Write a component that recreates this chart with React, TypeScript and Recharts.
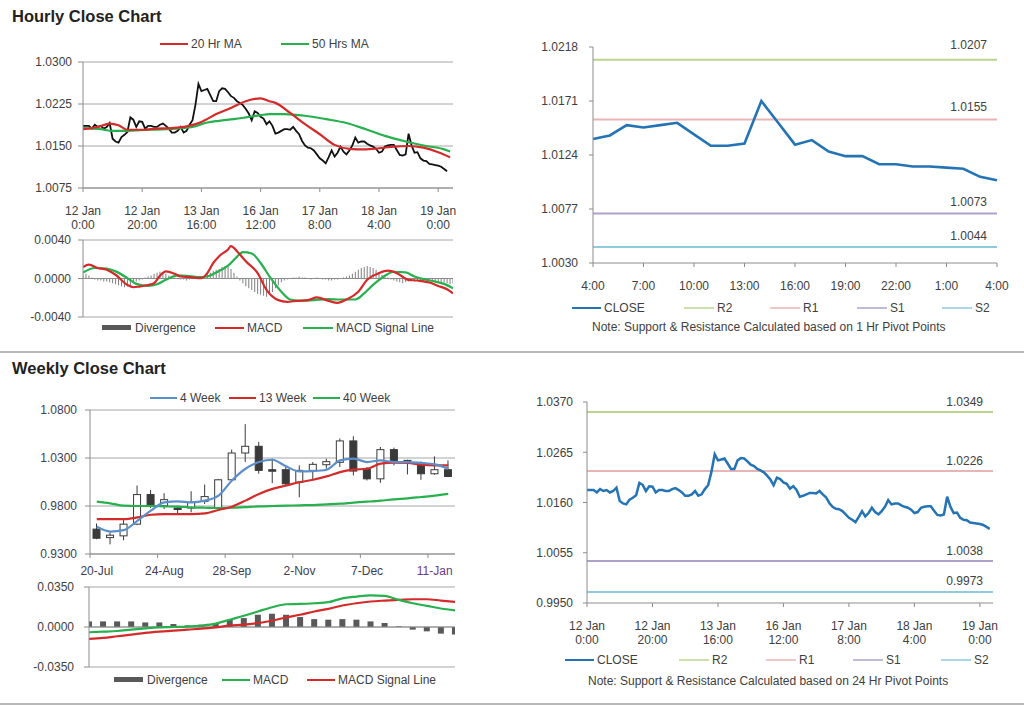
import React from 'react';
import {
  LineChart, Line, XAxis, YAxis, CartesianGrid, ReferenceLine, ComposedChart, Bar,
} from 'recharts';

const FONT = '"Liberation Sans", Arial, Helvetica, sans-serif';
const TXT = '#404040';
const GRID = '#a6a6a6';
const AXIS = '#8c8c8c';
const RED = '#d42a2a';
const GREEN = '#27b04e';
const BLUE = '#2474b5';
const WBLUE = '#5b8fcc';

// ---------- Hourly close (12 Jan 0:00 -> 19 Jan, one value per hour) ----------
const hourlyClose = [
  1.0186, 1.0186, 1.0186, 1.0181, 1.0188, 1.0184, 1.0186, 1.0181, 1.0184, 1.0191,
  1.0163, 1.0158, 1.0156, 1.0166, 1.0170, 1.0175, 1.0201, 1.0197, 1.0184, 1.0194,
  1.0193, 1.0181, 1.0186, 1.0186, 1.0184, 1.0184, 1.0188, 1.0190, 1.0186, 1.0181,
  1.0174, 1.0174, 1.0177, 1.0184, 1.0174, 1.0177, 1.0188, 1.0196, 1.0224, 1.0261,
  1.0248, 1.0250, 1.0252, 1.0241, 1.0230, 1.0230, 1.0248, 1.0253, 1.0252, 1.0246,
  1.0239, 1.0236, 1.0230, 1.0227, 1.0223, 1.0216, 1.0208, 1.0196, 1.0212, 1.0209,
  1.0202, 1.0199, 1.0189, 1.0194, 1.0186, 1.0172, 1.0174, 1.0177, 1.0180, 1.0180,
  1.0179, 1.0184, 1.0177, 1.0171, 1.0159, 1.0151, 1.0147, 1.0146, 1.0142, 1.0135,
  1.0128, 1.0124, 1.0119, 1.0130, 1.0142, 1.0131, 1.0138, 1.0149, 1.0140, 1.0135,
  1.0142, 1.0151, 1.0165, 1.0156, 1.0158, 1.0158, 1.0154, 1.0151, 1.0149, 1.0145,
  1.0138, 1.0140, 1.0149, 1.0151, 1.0152, 1.0152, 1.0143, 1.0134, 1.0133, 1.0135,
  1.0172, 1.0151, 1.0138, 1.0139, 1.0128, 1.0124, 1.0123, 1.0118, 1.0117, 1.0116,
  1.0115, 1.0113, 1.0109, 1.0105,
];
const hourTicks = [0, 20, 40, 60, 80, 100, 120];
const hourTickDay = ['12 Jan', '12 Jan', '13 Jan', '16 Jan', '17 Jan', '18 Jan', '19 Jan'];
const hourTickTime = ['0:00', '20:00', '16:00', '12:00', '8:00', '4:00', '0:00'];

const ma20Hours = [0, 5, 9, 12, 15, 20, 25, 30, 35, 40, 45, 50, 55, 58, 60, 63, 65, 70, 75, 80, 85, 90, 95, 100, 105, 110, 115, 120, 124];
const ma20Values = [1.0180, 1.0184, 1.0190, 1.0187, 1.0179, 1.0179, 1.0181, 1.0182, 1.0185, 1.0193, 1.0207, 1.0218, 1.0230, 1.0234, 1.0235, 1.0230, 1.0227, 1.0209, 1.0189, 1.0171, 1.0152, 1.0145, 1.0144, 1.0146, 1.0149, 1.0150, 1.0147, 1.0139, 1.0130];
const ma50Hours = [0, 6, 10, 15, 22, 28, 33, 37, 42, 46, 51, 55, 60, 63, 68, 75, 82, 89, 96, 102, 109, 116, 122, 124];
const ma50Values = [1.0182, 1.0180, 1.0177, 1.0177, 1.0179, 1.0180, 1.0182, 1.0184, 1.0192, 1.0195, 1.0198, 1.0201, 1.0205, 1.0207, 1.0207, 1.0204, 1.0198, 1.0191, 1.0179, 1.0168, 1.0158, 1.0150, 1.0144, 1.0140];

// ---------- Hourly MACD ----------
const macdHours = [0, 2, 5, 8, 11, 15, 17, 19, 22, 24, 26, 28, 31, 33, 36, 40, 42, 44, 46, 49, 50, 52, 55, 59, 62, 66, 69, 72, 76, 79, 83, 86, 89, 93, 96, 100, 103, 106, 110, 113, 117, 120, 123, 125];
const macdValues = [0.00119, 0.00144, 0.00109, 0.00091, 0.00039, -0.00067, -0.00091, -0.00084, -0.00067, -0.00049, 0.00028, 0.00074, 0.00049, 0.00021, 0.00014, 0.00004, 0.00056, 0.00161, 0.00232, 0.00302, 0.00337, 0.00284, 0.00179, 0.00056, -0.00119, -0.00225, -0.00242, -0.00232, -0.00225, -0.00197, -0.00232, -0.00253, -0.00218, -0.00137, -0.00014, 0.00056, 0.00081, 0.00056, -0.00014, -0.00021, -0.00042, -0.00077, -0.00112, -0.00154];
const signalHours = [0, 4, 8, 11, 15, 18, 22, 25, 28, 32, 35, 39, 42, 45, 49, 52, 54, 57, 60, 63, 67, 70, 74, 78, 83, 87, 92, 95, 98, 102, 105, 109, 112, 115, 119, 122, 125];
const signalValues = [0.00063, 0.00109, 0.00102, 0.00074, 0.00004, -0.00056, -0.00077, -0.0006, -0.00014, 0.00032, 0.00028, 0.00014, 0.00021, 0.00063, 0.00133, 0.00225, 0.00274, 0.0026, 0.00161, 0.00021, -0.00137, -0.00218, -0.00232, -0.00225, -0.00214, -0.00218, -0.00218, -0.00154, -0.00067, 0.00028, 0.0007, 0.00063, 0.00021, -0.00007, -0.00032, -0.00056, -0.00102];
const hourlyDivergence = [
  0.0004, 0.0005, 0.0003, 0.0001, -0.0001, -0.0002,
  -0.0002, -0.0003, -0.0003, -0.0004, -0.0005, -0.0006, -0.0007, -0.0008,
  -0.0009, -0.0008, -0.0007, -0.0005, -0.0003, -0.0002, -0.0001,
  0.0001, 0.0002, 0.0003, 0.0005, 0.0006, 0.0007, 0.0006, 0.0005,
  0.0003, 0.0002, 0.0001, 0, -0.0001, -0.0001, -0.0002, -0.0001, 0,
  0.0001, 0.0001, 0.0002,
  0.0003, 0.0005, 0.0006, 0.0008, 0.0009, 0.001, 0.0012, 0.0013, 0.0012, 0.001,
  0.0006, 0.0002,
  -0.0002, -0.0005, -0.0008, -0.001, -0.0012, -0.0014, -0.0016, -0.0017, -0.0018, -0.0019, -0.0017,
  -0.0014, -0.001, -0.0007, -0.0004, -0.0002,
  -0.0001, 0, 0.0001, 0.0001, 0.0002, 0.0001, 0.0001, 0, -0.0001, 0, 0.0001, 0,
  -0.0001, -0.0001, -0.0002, -0.0002, -0.0001, -0.0001, 0, 0.0001, 0.0002,
  0.0003, 0.0005, 0.0007, 0.0009, 0.0011, 0.0012, 0.0013, 0.0012, 0.0011, 0.0009, 0.0006,
  0.0004, 0.0002, 0.0001, -0.0001, -0.0002,
  -0.0003, -0.0004, -0.0005, -0.0004, -0.0003, -0.0002, -0.0003, -0.0002, -0.0002, -0.0003,
  -0.0002, -0.0003, -0.0004, -0.0003, -0.0004, -0.0005, -0.0004, -0.0005, -0.0006, -0.0005,
];

// ---------- Last 24 hours with 1 Hr pivots ----------
const lastDayClose = [1.0138, 1.0141, 1.0150, 1.0148, 1.0150, 1.0152, 1.0142, 1.0132, 1.0132, 1.0134, 1.0171, 1.0152, 1.0133, 1.0137, 1.0127, 1.0123, 1.0123, 1.0116, 1.0116, 1.0114, 1.0114, 1.0113, 1.0112, 1.0105, 1.0102];
const lastDayTicks = [0, 3, 6, 9, 12, 15, 18, 21, 24];
const lastDayTickLabels = ['4:00', '7:00', '10:00', '13:00', '16:00', '19:00', '22:00', '1:00', '4:00'];
const pivotNames = ['R2', 'R1', 'S1', 'S2'];
const pivotColors = ['#bdd48f', '#e8b4b4', '#b0a0cc', '#8ecbdc'];
const pivot1hLevels = [1.0207, 1.0155, 1.0073, 1.0044];
const pivot24hLevels = [1.0349, 1.0226, 1.0038, 0.9973];
const yTicks1h = [1.0030, 1.0077, 1.0124, 1.0171, 1.0218];
const yTicks24h = [0.9950, 1.0055, 1.0160, 1.0265, 1.0370];

// ---------- Weekly candles ----------
const weeks = ['20-Jul', '27-Jul', '3-Aug', '10-Aug', '17-Aug', '24-Aug', '31-Aug', '7-Sep', '14-Sep', '21-Sep', '28-Sep', '5-Oct', '12-Oct', '19-Oct', '26-Oct', '2-Nov', '9-Nov', '16-Nov', '23-Nov', '30-Nov', '7-Dec', '14-Dec', '21-Dec', '28-Dec', '4-Jan', '11-Jan', '18-Jan'];
const wOpen = [0.9559, 0.9471, 0.9489, 0.9611, 0.9919, 0.9803, 0.9779, 0.9779, 0.9849, 0.9779, 1.0073, 1.0352, 1.0422, 1.0178, 1.0178, 1.0048, 1.0171, 1.0230, 1.0255, 1.0478, 1.0181, 1.0083, 1.0387, 1.0275, 1.0248, 1.0136, 1.0178];
const wHigh = [0.9618, 0.9524, 0.9653, 1.0013, 0.9968, 0.9933, 0.9803, 0.9954, 1.0024, 1.0080, 1.0387, 1.0653, 1.0468, 1.0293, 1.0206, 1.0223, 1.0258, 1.0293, 1.0503, 1.0527, 1.0206, 1.0415, 1.0408, 1.0282, 1.0265, 1.0317, 1.0275];
const wLow = [0.9454, 0.9401, 0.9443, 0.9601, 0.9779, 0.9769, 0.9716, 0.9734, 0.9821, 0.9769, 1.0066, 1.0258, 1.0136, 1.0038, 1.0003, 0.9891, 1.0066, 1.0188, 1.0206, 1.0118, 1.0066, 1.0041, 1.0223, 1.0129, 1.0073, 1.0125, 1.0101];
const wClose = [0.9464, 0.9496, 0.9611, 0.9919, 0.9814, 0.9866, 0.9769, 0.9838, 0.9898, 1.0073, 1.0352, 1.0422, 1.0171, 1.0167, 1.0031, 1.0171, 1.0234, 1.0262, 1.0478, 1.0164, 1.0083, 1.0387, 1.0275, 1.0251, 1.0136, 1.0178, 1.0108];
const wMA4 = [0.9583, 0.9534, 0.9548, 0.9646, 0.9751, 0.9838, 0.9849, 0.9838, 0.9856, 0.9908, 1.0066, 1.0188, 1.0258, 1.0282, 1.0213, 1.0160, 1.0164, 1.0178, 1.0275, 1.0293, 1.0258, 1.0275, 1.0258, 1.0258, 1.0248, 1.0234, 1.0188];
const wMA13 = [0.9664, 0.9664, 0.9664, 0.9681, 0.9709, 0.9716, 0.9716, 0.9716, 0.9723, 0.9758, 0.9793, 0.9856, 0.9926, 0.9978, 1.0013, 1.0048, 1.0073, 1.0108, 1.0153, 1.0178, 1.0188, 1.0241, 1.0251, 1.0248, 1.0230, 1.0223, 1.0223];
const wMA40 = [0.9845, 0.9828, 0.9803, 0.9800, 0.9800, 0.9796, 0.9793, 0.9786, 0.9782, 0.9779, 0.9782, 0.9789, 0.9796, 0.9800, 0.9803, 0.9807, 0.9810, 0.9817, 0.9824, 0.9835, 0.9845, 0.9856, 0.9870, 0.9880, 0.9894, 0.9908, 0.9926];
const weekTickIdx = [0, 5, 10, 15, 20, 25];
const wYTicks = [0.93, 0.98, 1.03, 1.08];

// ---------- Weekly MACD ----------
const wMacd = [-0.0046, -0.0041, -0.0035, -0.0023, -0.0012, -0.0003, 0.0000, 0.0003, 0.0012, 0.0029, 0.0064, 0.0098, 0.0136, 0.0173, 0.0199, 0.0202, 0.0208, 0.0217, 0.0251, 0.0266, 0.0277, 0.0272, 0.0237, 0.0208, 0.0185, 0.0162, 0.0145];
const wSignal = [-0.0104, -0.0095, -0.0081, -0.0067, -0.0052, -0.0041, -0.0032, -0.0023, -0.0015, -0.0003, 0.0012, 0.0020, 0.0035, 0.0055, 0.0084, 0.0107, 0.0136, 0.0159, 0.0188, 0.0208, 0.0223, 0.0231, 0.0237, 0.0243, 0.0243, 0.0231, 0.0220];
const wDiv = [0.0049, 0.0049, 0.0049, 0.0049, 0.0040, 0.0040, 0.0026, 0.0014, 0.0020, 0.0035, 0.0064, 0.0078, 0.0107, 0.0116, 0.0107, 0.0087, 0.0069, 0.0064, 0.0069, 0.0064, 0.0049, 0.0035, 0.0006, -0.0023, -0.0038, -0.0058, -0.0066];

// ---------- derived tables ----------
const pairs = (hs: number[], vs: number[]) => hs.map((h, i) => ({ h, v: vs[i] }));
const hourlyData = hourlyClose.map((v, i) => ({ h: i, v }));
const ma20Data = pairs(ma20Hours, ma20Values);
const ma50Data = pairs(ma50Hours, ma50Values);
const macdData = pairs(macdHours, macdValues);
const signalData = pairs(signalHours, signalValues);
const divData = hourlyDivergence.map((v, i) => ({ h: i, v }));
const lastDayData = lastDayClose.map((v, i) => ({ h: i, v }));
const weeklyData = weeks.map((w, k) => ({
  x: k + 0.5, hl: [wLow[k], wHigh[k]], open: wOpen[k], high: wHigh[k], low: wLow[k], close: wClose[k],
  ma4: wMA4[k], ma13: wMA13[k], ma40: wMA40[k],
}));
const wMacdData = weeks.map((w, k) => ({ x: k, div: wDiv[k], macd: wMacd[k], sig: wSignal[k] }));

const fmt4 = (v: number) => v.toFixed(4);
const yTickStyle = { fill: TXT, fontSize: 12, fontFamily: FONT };

const twoLineTick = (ticks: number[], top: string[], bottom: string[], d1: number, d2: number) => (p: any) => {
  const idx = ticks.indexOf(p.payload.value);
  if (idx < 0) return <g />;
  return (
    <text x={p.x} y={p.y} textAnchor="middle" fill={TXT} fontSize={12} fontFamily={FONT}>
      <tspan x={p.x} dy={d1}>{top[idx]}</tspan>
      <tspan x={p.x} dy={d2 - d1}>{bottom[idx]}</tspan>
    </text>
  );
};

const oneLineTick = (ticks: number[], labels: string[], d: number) => (p: any) => {
  const idx = ticks.indexOf(p.payload.value);
  if (idx < 0) return <g />;
  return (
    <text x={p.x} y={p.y + d} textAnchor="middle" fill={TXT} fontSize={12} fontFamily={FONT}>{labels[idx]}</text>
  );
};

const WEEK_PLOT_W = 365;
const weekTick = (p: any) => {
  const k = Math.floor(p.payload.value);
  const half = WEEK_PLOT_W / weeks.length / 2;
  const bx = p.x - half;
  return (
    <g>
      <line x1={bx} x2={bx} y1={p.y} y2={p.y + 4} stroke={AXIS} />
      <text x={p.x} y={p.y + 21} textAnchor="middle" fill={k === 25 ? '#6b3a86' : '#3d3d55'} fontSize={12} fontFamily={FONT}>{weeks[k]}</text>
    </g>
  );
};

const refLabel = (text: string, lift: number) => (props: any) => {
  const vb = props.viewBox || {};
  return (
    <text x={vb.x + vb.width - 10} y={vb.y - lift} textAnchor="end" fill={TXT} fontSize={12} fontFamily={FONT}>{text}</text>
  );
};
const lift1h = [11, 8, 8, 7];
const lift24h = [6, 6, 6, 7];

const Candle = (props: any) => {
  const { x, y, width, height, payload } = props;
  if (payload == null || height == null) return <g />;
  const { open, close, high, low } = payload;
  const r = height / (high - low);
  const yo = y + (high - open) * r;
  const yc = y + (high - close) * r;
  const top = Math.min(yo, yc);
  const h = Math.max(Math.abs(yc - yo), 1.5);
  const cx = x + width / 2;
  const down = close < open;
  return (
    <g>
      <line x1={cx} x2={cx} y1={y} y2={y + height} stroke="#3a3a3a" strokeWidth={1} />
      <rect x={x} y={top} width={width} height={h} fill={down ? '#3a3a3a' : '#ffffff'} stroke="#3a3a3a" strokeWidth={1} />
    </g>
  );
};

const LegendLine = ({ x, y, w, color, label, sw = 2 }: any) => (
  <g>
    <line x1={x} x2={x + w} y1={y - 4} y2={y - 4} stroke={color} strokeWidth={sw} />
    <text x={x + w + 3} y={y} fill={TXT} fontSize={12} fontFamily={FONT}>{label}</text>
  </g>
);
const LegendBox = ({ x, y, w, label }: any) => (
  <g>
    <rect x={x} y={y - 7} width={w} height={5} fill="#595959" />
    <text x={x + w + 4} y={y} fill={TXT} fontSize={12} fontFamily={FONT}>{label}</text>
  </g>
);

const pos = (left: number, top: number): React.CSSProperties => ({ position: 'absolute', left, top });

export default function App() {
  return (
    <div style={{ position: 'absolute', left: 0, top: 0, width: 1024, height: 706, background: '#fff', fontFamily: FONT }}>
      {/* Panel 1: hourly close with MAs */}
      <div style={pos(0, 50)}>
        <LineChart width={470} height={190} data={hourlyData} margin={{ top: 12, right: 17, bottom: 12, left: 0 }}>
          <CartesianGrid vertical={false} stroke={GRID} />
          <XAxis type="number" dataKey="h" domain={[0, 125]} ticks={hourTicks} interval={0} allowDataOverflow
            height={40} tickSize={4} tickMargin={2} stroke={AXIS}
            tick={twoLineTick(hourTicks, hourTickDay, hourTickTime, 21, 34.5)} />
          <YAxis type="number" domain={[1.0075, 1.03]} ticks={[1.0075, 1.015, 1.0225, 1.03]} interval={0}
            width={83} tickSize={5} tickMargin={6} stroke={AXIS} tick={yTickStyle} tickFormatter={fmt4} />
          <Line dataKey="v" stroke="#111" strokeWidth={1.8} dot={false} type="linear" isAnimationActive={false} />
          <Line data={ma50Data} dataKey="v" stroke={GREEN} strokeWidth={2.2} dot={false} type="monotone" isAnimationActive={false} />
          <Line data={ma20Data} dataKey="v" stroke={RED} strokeWidth={2.2} dot={false} type="monotone" isAnimationActive={false} />
        </LineChart>
      </div>

      {/* Panel 2: hourly MACD */}
      <div style={pos(0, 232)}>
        <ComposedChart width={470} height={110} data={divData} margin={{ top: 8, right: 17, bottom: 25, left: 0 }}>
          <CartesianGrid vertical={false} stroke={GRID} />
          <XAxis type="number" dataKey="h" domain={[0, 125]} hide allowDataOverflow />
          <YAxis type="number" domain={[-0.004, 0.004]} ticks={[-0.004, 0, 0.004]} interval={0}
            width={83} tickSize={5} tickMargin={7} stroke={AXIS} tick={yTickStyle} tickFormatter={fmt4} />
          <ReferenceLine y={0} stroke={AXIS} />
          <Bar dataKey="v" fill="#7f7f7f" barSize={1} isAnimationActive={false} />
          <Line data={signalData} dataKey="v" stroke={GREEN} strokeWidth={2.2} dot={false} type="monotone" isAnimationActive={false} />
          <Line data={macdData} dataKey="v" stroke={RED} strokeWidth={2.2} dot={false} type="monotone" isAnimationActive={false} />
        </ComposedChart>
      </div>

      {/* Panel 3: last 24 hours with 1 Hr pivots */}
      <div style={pos(500, 30)}>
        <LineChart width={520} height={270} data={lastDayData} margin={{ top: 17, right: 23, bottom: 7, left: 0 }}>
          <XAxis type="number" dataKey="h" domain={[0, 24]} ticks={lastDayTicks} interval={0}
            height={30} tickSize={4} tickMargin={2} stroke={AXIS} tick={oneLineTick(lastDayTicks, lastDayTickLabels, 21)} />
          <YAxis type="number" domain={[1.003, 1.0218]} ticks={yTicks1h} interval={0}
            width={93} tickSize={4} tickMargin={11} stroke={AXIS} tick={yTickStyle} tickFormatter={fmt4} />
          {pivot1hLevels.map((lv, i) => (
            <ReferenceLine key={pivotNames[i]} y={lv} stroke={pivotColors[i]} strokeWidth={2} label={refLabel(fmt4(lv), lift1h[i])} />
          ))}
          <Line dataKey="v" stroke={BLUE} strokeWidth={2.6} dot={false} type="linear" isAnimationActive={false} />
        </LineChart>
      </div>

      {/* Panel 4: hourly close with 24 Hr pivots */}
      <div style={pos(490, 385)}>
        <LineChart width={530} height={275} data={hourlyData} margin={{ top: 17, right: 27, bottom: 7, left: 0 }}>
          <XAxis type="number" dataKey="h" domain={[0, 124]} ticks={hourTicks} interval={0}
            height={50} tickSize={4} tickMargin={2} stroke={AXIS}
            tick={twoLineTick(hourTicks, hourTickDay, hourTickTime, 21, 35)} />
          <YAxis type="number" domain={[0.995, 1.037]} ticks={yTicks24h} interval={0}
            width={97} tickSize={4} tickMargin={10} stroke={AXIS} tick={yTickStyle} tickFormatter={fmt4} />
          {pivot24hLevels.map((lv, i) => (
            <ReferenceLine key={pivotNames[i]} y={lv} stroke={pivotColors[i]} strokeWidth={2} label={refLabel(fmt4(lv), lift24h[i])} />
          ))}
          <Line dataKey="v" stroke={BLUE} strokeWidth={2.5} dot={false} type="linear" isAnimationActive={false} />
        </LineChart>
      </div>

      {/* Panel 5: weekly candles */}
      <div style={pos(0, 400)}>
        <ComposedChart width={470} height={190} data={weeklyData} margin={{ top: 10, right: 15, bottom: 6, left: 0 }}>
          <CartesianGrid vertical={false} stroke={GRID} />
          <XAxis type="number" dataKey="x" domain={[0, 27]} ticks={weekTickIdx.map((k) => k + 0.5)} interval={0}
            height={30} tickSize={0} tickMargin={0} stroke={AXIS} tick={weekTick} />
          <YAxis type="number" domain={[0.93, 1.08]} ticks={wYTicks} interval={0}
            width={90} tickSize={5} tickMargin={8} stroke={AXIS} tick={{ ...yTickStyle, fill: '#3d3d55' }} tickFormatter={fmt4} />
          <Bar dataKey="hl" barSize={7} shape={Candle} isAnimationActive={false} />
          <Line dataKey="ma40" stroke={GREEN} strokeWidth={2.2} dot={false} type="monotone" isAnimationActive={false} />
          <Line dataKey="ma13" stroke={RED} strokeWidth={2.2} dot={false} type="monotone" isAnimationActive={false} />
          <Line dataKey="ma4" stroke={WBLUE} strokeWidth={2.2} dot={false} type="monotone" isAnimationActive={false} />
        </ComposedChart>
      </div>

      {/* Panel 6: weekly MACD */}
      <div style={pos(0, 580)}>
        <ComposedChart width={470} height={95} data={wMacdData} margin={{ top: 7, right: 15, bottom: 8, left: 0 }}>
          <CartesianGrid vertical={false} stroke={GRID} />
          <XAxis type="number" dataKey="x" domain={[0, 26]} hide allowDataOverflow />
          <YAxis type="number" domain={[-0.035, 0.035]} ticks={[-0.035, 0, 0.035]} interval={0}
            width={89} tickSize={5} tickMargin={10} stroke={AXIS} tick={yTickStyle} tickFormatter={fmt4} />
          <ReferenceLine y={0} stroke={AXIS} />
          <Bar dataKey="div" fill="#595959" barSize={6} isAnimationActive={false} />
          <Line dataKey="sig" stroke={RED} strokeWidth={2.2} dot={false} type="monotone" isAnimationActive={false} />
          <Line dataKey="macd" stroke={GREEN} strokeWidth={2.2} dot={false} type="monotone" isAnimationActive={false} />
        </ComposedChart>
      </div>

      {/* Titles, legends, notes, separators */}
      <svg width={1024} height={706} style={{ position: 'absolute', left: 0, top: 0, pointerEvents: 'none' }}>
        <text x={12} y={22} fontSize={16.5} fontWeight="bold" fill="#222" fontFamily={FONT}>Hourly Close Chart</text>
        <text x={12} y={374} fontSize={16.5} fontWeight="bold" fill="#222" fontFamily={FONT}>Weekly Close Chart</text>
        <line x1={0} x2={1024} y1={352} y2={352} stroke="#a0a0a0" strokeWidth={1.5} />
        <line x1={0} x2={1024} y1={704} y2={704} stroke="#a0a0a0" strokeWidth={1.5} />

        <LegendLine x={160} y={48} w={28} color={RED} label="20 Hr MA" />
        <LegendLine x={281} y={48} w={28} color={GREEN} label="50 Hrs MA" />

        <LegendBox x={102} y={332} w={29} label="Divergence" />
        <LegendLine x={215} y={332} w={29} color={RED} label="MACD" />
        <LegendLine x={303} y={332} w={30} color={GREEN} label="MACD Signal Line" />

        <LegendLine x={572} y={312} w={29} color={BLUE} label="CLOSE" />
        {pivotNames.map((n, i) => (
          <LegendLine key={n} x={[684, 770, 857, 942][i]} y={312} w={30} color={pivotColors[i]} label={n} sw={1.5} />
        ))}
        <text x={592} y={331} fill={TXT} fontSize={12} fontFamily={FONT}>Note: Support &amp; Resistance Calculated based on 1 Hr Pivot Points</text>

        <LegendLine x={565} y={664} w={29} color={BLUE} label="CLOSE" />
        {pivotNames.map((n, i) => (
          <LegendLine key={n} x={[679, 766, 853, 941][i]} y={664} w={30} color={pivotColors[i]} label={n} sw={1.5} />
        ))}
        <text x={588} y={685} fill={TXT} fontSize={12} fontFamily={FONT}>Note: Support &amp; Resistance Calculated based on 24 Hr Pivot Points</text>

        <LegendLine x={150} y={402} w={27} color={WBLUE} label="4 Week" />
        <LegendLine x={229} y={402} w={27} color={RED} label="13 Week" />
        <LegendLine x={313} y={402} w={27} color={GREEN} label="40 Week" />

        <LegendBox x={114} y={684} w={29} label="Divergence" />
        <LegendLine x={222} y={684} w={28} color={GREEN} label="MACD" />
        <LegendLine x={307} y={684} w={28} color={RED} label="MACD Signal Line" />
      </svg>
    </div>
  );
}
